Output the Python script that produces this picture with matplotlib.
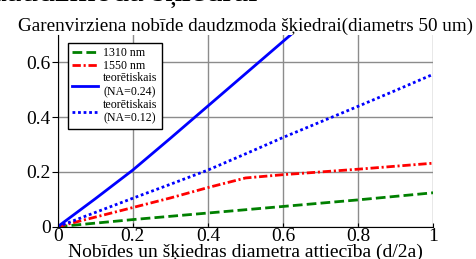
import matplotlib
matplotlib.use("Agg")
import matplotlib.pyplot as plt

# data
ratio = [0.0, 0.1, 0.2, 0.3, 0.4, 0.5, 0.6, 0.7, 0.8, 0.9, 1.0]
delay_1310 = [0.0, 0.013, 0.026, 0.038, 0.050, 0.062, 0.074, 0.086, 0.098, 0.111, 0.124]
delay_1550 = [0.0, 0.035, 0.070, 0.105, 0.143, 0.178, 0.190, 0.200, 0.210, 0.221, 0.232]
theory_024 = [0.0, 0.102, 0.207, 0.323, 0.441, 0.559, 0.677, 0.795, 0.913, 1.031, 1.149]
theory_012 = [0.0, 0.052, 0.104, 0.155, 0.207, 0.266, 0.326, 0.383, 0.440, 0.498, 0.557]

labels = ["1310 nm", "1550 nm", "teorētiskais\n(NA=0.24)", "teorētiskais\n(NA=0.12)"]
xticks = [0, 0.2, 0.4, 0.6, 0.8, 1]
xticklabels = ["0", "0.2", "0.4", "0.6", "0.8", "1"]
yticks = [0, 0.2, 0.4, 0.6]
yticklabels = ["0", "0.2", "0.4", "0.6"]

title = "Garenvirziena nobīde daudzmoda šķiedrai(diametrs 50 um)"
xlabel = "Nobīdes un šķiedras diametra attiecība (d/2a)"
heading = "daudzmoda šķiedrai"

plt.rcParams["font.family"] = ["Liberation Serif", "DejaVu Serif"]
plt.rcParams["lines.scale_dashes"] = False

fig = plt.figure(figsize=(4.76, 2.59), dpi=100)
ax = fig.add_axes([0.1212, 0.1247, 0.7895, 0.7402])

# cut-off heading at the very top of the picture (only its bottom edge shows)
fig.text(258 / 476, 1 - 1 / 259, heading, ha="right", va="baseline", fontsize=24)

ax.plot(ratio, delay_1310, color="#008000", lw=2, dashes=(7, 3), label=labels[0])
ax.plot(ratio, delay_1550, color="#ff0000", lw=2, dashes=(6, 2, 1.5, 2), label=labels[1])
ax.plot(ratio, theory_024, color="#0000ff", lw=2, label=labels[2])
ax.plot(ratio, theory_012, color="#0000ff", lw=2, dashes=(2, 2), label=labels[3])

ax.set_xlim(0, 1)
ax.set_ylim(0, 0.7)
ax.set_xticks(xticks)
ax.set_xticklabels(xticklabels)
ax.set_yticks(yticks)
ax.set_yticklabels(yticklabels)
ax.tick_params(labelsize=14, colors="black")
ax.tick_params(axis="x", direction="in", length=3, pad=1)
ax.tick_params(axis="y", direction="out", length=4, pad=1)
ax.grid(True, color="#8c8c8c", lw=1)
ax.spines["top"].set_visible(False)
ax.spines["right"].set_visible(False)

ax.set_title(title, fontsize=13.8, pad=3)
ax.set_xlabel(xlabel, fontsize=14, labelpad=-1)

leg = ax.legend(loc="upper left", bbox_to_anchor=(0.027, 0.958), borderaxespad=0,
                fontsize=8.6, handlelength=2.2, fancybox=False, framealpha=1,
                edgecolor="black", labelspacing=0.05, borderpad=0.35, handletextpad=0.4)
leg.get_frame().set_linewidth(1)

fig.savefig("out.png", dpi=100)
